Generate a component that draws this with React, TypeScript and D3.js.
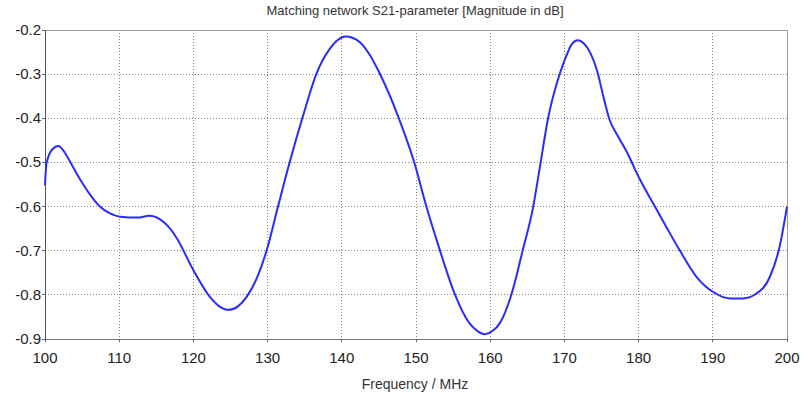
import { useMemo } from "react";
import * as d3 from "d3";

const WIDTH = 803;
const HEIGHT = 404;
const MARGIN = { top: 30, right: 16, bottom: 65, left: 45 };

const TITLE = "Matching network S21-parameter [Magnitude in dB]";
const X_LABEL = "Frequency / MHz";

const X_TICKS = [100, 110, 120, 130, 140, 150, 160, 170, 180, 190, 200];
const Y_TICKS = [-0.2, -0.3, -0.4, -0.5, -0.6, -0.7, -0.8, -0.9];

// frequency (MHz)
const freq = [
  100.0, 100.2, 101.0, 101.8, 102.6, 103.4, 104.3, 105.2, 106.3, 107.4,
  108.7, 110.1, 112.4, 114.1, 115.5, 116.6, 117.7, 120.0, 122.2, 123.5,
  124.7, 126.0, 127.2, 128.6, 129.9, 131.4, 133.0, 134.8, 136.6, 138.4,
  139.5, 140.5, 141.5, 142.4, 143.8, 145.1, 147.6, 149.8, 151.4, 153.2,
  155.2, 157.2, 158.3, 159.3, 160.3, 161.3, 162.9, 164.4, 165.8, 166.7,
  167.8, 169.4, 170.3, 171.0, 171.8, 172.6, 173.4, 174.5, 175.2, 176.1,
  177.2, 178.4, 180.1, 182.2, 183.7, 185.5, 187.8, 190.0, 192.3, 194.1,
  195.9, 197.7, 199.0, 200.0,
];

// S21 magnitude (dB)
const s21 = [
  -0.552, -0.502, -0.47, -0.463, -0.476, -0.499, -0.526, -0.551, -0.578, -0.6,
  -0.615, -0.623, -0.625, -0.621, -0.629, -0.645, -0.67, -0.744, -0.804, -0.826,
  -0.834, -0.826, -0.804, -0.76, -0.698, -0.6, -0.498, -0.393, -0.298, -0.242,
  -0.222, -0.215, -0.218, -0.227, -0.257, -0.298, -0.396, -0.502, -0.6, -0.698,
  -0.797, -0.864, -0.882, -0.889, -0.882, -0.864, -0.797, -0.698, -0.6, -0.51,
  -0.4, -0.298, -0.257, -0.232, -0.223, -0.23, -0.249, -0.298, -0.347, -0.404,
  -0.44, -0.476, -0.536, -0.6, -0.645, -0.698, -0.759, -0.793, -0.808, -0.808,
  -0.797, -0.759, -0.691, -0.6,
];

const FONT = "'Liberation Sans', Arial, sans-serif";

export default function App() {
  const innerW = WIDTH - MARGIN.left - MARGIN.right;
  const innerH = HEIGHT - MARGIN.top - MARGIN.bottom;

  const x = useMemo(() => d3.scaleLinear().domain([100, 200]).range([MARGIN.left, MARGIN.left + innerW]), [innerW]);
  const y = useMemo(() => d3.scaleLinear().domain([-0.9, -0.2]).range([MARGIN.top + innerH, MARGIN.top]), [innerH]);

  const path = useMemo(() => {
    const pts = freq.map((f, i) => [f, s21[i]] as [number, number]);
    return d3
      .line<[number, number]>()
      .x((d) => x(d[0]))
      .y((d) => y(d[1]))
      .curve(d3.curveMonotoneX)(pts);
  }, [x, y]);

  const x0 = MARGIN.left;
  const x1 = MARGIN.left + innerW;
  const y0 = MARGIN.top;
  const y1 = MARGIN.top + innerH;

  return (
    <svg
      width={WIDTH}
      height={HEIGHT}
      style={{ position: "fixed", left: 0, top: 0, background: "#fff" }}
      fontFamily={FONT}
    >
      <text x={415} y={15} textAnchor="middle" fontSize={13} fill="#333">
        {TITLE}
      </text>

      {/* grid */}
      <g stroke="#888" strokeWidth={1} strokeDasharray="1,2" shapeRendering="crispEdges">
        {X_TICKS.slice(1, -1).map((t) => (
          <line key={`gx${t}`} x1={x(t)} x2={x(t)} y1={y0} y2={y1} />
        ))}
        {Y_TICKS.slice(1, -1).map((t) => (
          <line key={`gy${t}`} x1={x0} x2={x1} y1={y(t)} y2={y(t)} />
        ))}
      </g>

      {/* frame */}
      <g shapeRendering="crispEdges">
        <line x1={x0} x2={x1} y1={y0} y2={y0} stroke="#999" />
        <line x1={x1} x2={x1} y1={y0} y2={y1} stroke="#999" />
        <line x1={x0} x2={x1} y1={y1} y2={y1} stroke="#777" />
        <line x1={x0} x2={x0} y1={y0} y2={y1} stroke="#555" />
      </g>

      {/* ticks */}
      <g stroke="#666" shapeRendering="crispEdges">
        {X_TICKS.map((t) => (
          <line key={`tx${t}`} x1={x(t)} x2={x(t)} y1={y1} y2={y1 + 3} />
        ))}
        {Y_TICKS.map((t) => (
          <line key={`ty${t}`} x1={x0 - 3} x2={x0} y1={y(t)} y2={y(t)} />
        ))}
      </g>

      <g fontSize={15} fill="#222">
        {X_TICKS.map((t) => (
          <text key={`lx${t}`} x={x(t)} y={y1 + 24} textAnchor="middle">
            {t}
          </text>
        ))}
        {Y_TICKS.map((t) => (
          <text key={`ly${t}`} x={x0 - 4} y={y(t) + 5} textAnchor="end">
            {t.toFixed(1)}
          </text>
        ))}
      </g>

      <text x={415} y={389} textAnchor="middle" fontSize={14} fill="#333">
        {X_LABEL}
      </text>

      <path d={path ?? ""} fill="none" stroke="#2b2bff" strokeWidth={2} />
    </svg>
  );
}
